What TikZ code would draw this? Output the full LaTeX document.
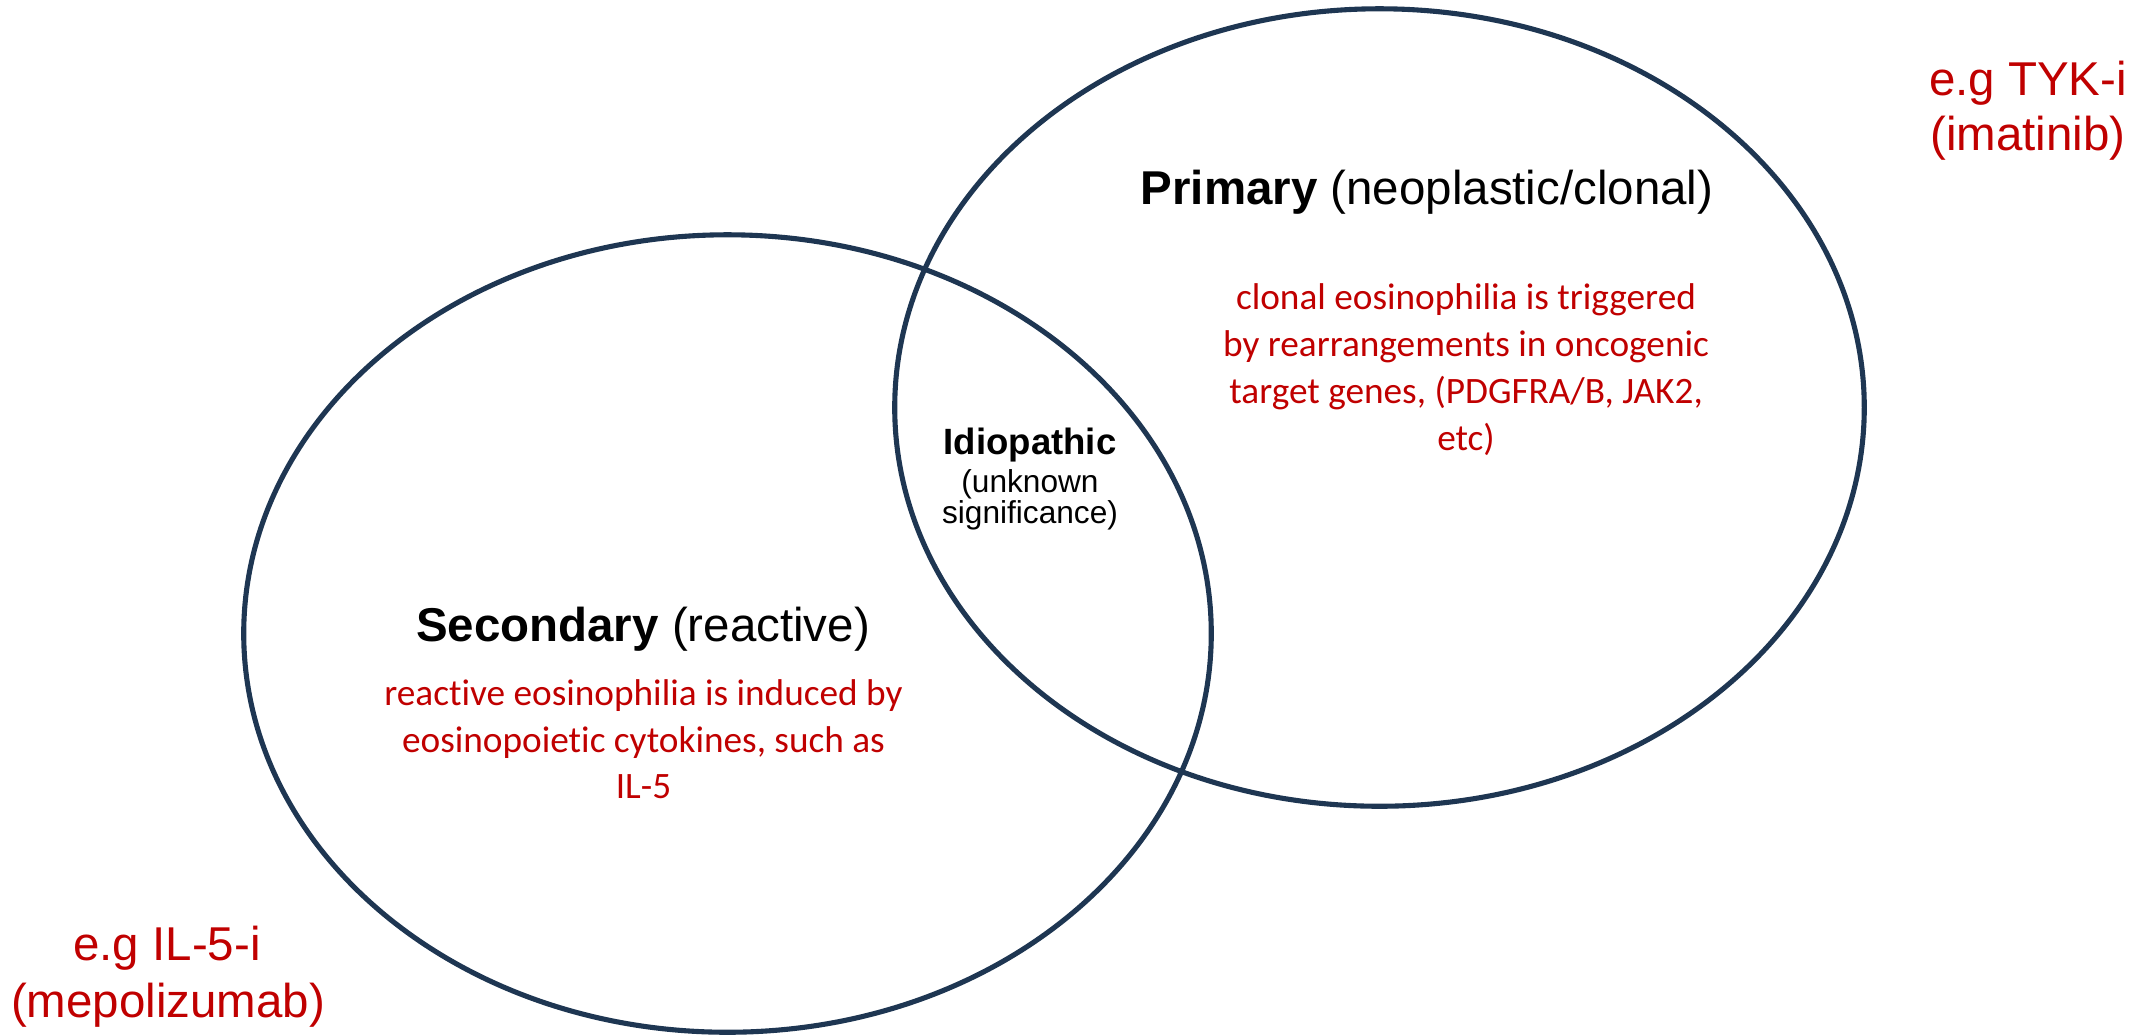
\documentclass[tikz,border=0pt]{standalone}
\usepackage{fontspec}
\setmainfont{Liberation Sans}
\newfontfamily\calib[Ligatures=NoCommon]{Carlito}
\definecolor{ringblue}{HTML}{1E3652}
\definecolor{redtxt}{HTML}{C00000}
\begin{document}
\begin{tikzpicture}[x=0.01cm,y=-0.01cm,
  ringline/.style={draw=ringblue, line width=1.45pt},
  head/.style={anchor=base, inner sep=0pt, font=\fontsize{13.5pt}{16pt}\selectfont},
  redline/.style={anchor=base, inner sep=0pt, text=redtxt, font=\calib\fontsize{10.6pt}{13pt}\selectfont},
  drug/.style={anchor=base, inner sep=0pt, text=redtxt, font=\fontsize{13.5pt}{16pt}\selectfont},
  idio/.style={anchor=base, inner sep=0pt, font=\bfseries\fontsize{10.4pt}{12pt}\selectfont},
  unk/.style={anchor=base, inner sep=0pt, font=\fontsize{9pt}{11pt}\selectfont}]
\useasboundingbox (0,0) rectangle (2154,1035);
% circles
\draw[ringline] (727.5,633.5) ellipse [x radius=4.835cm, y radius=3.985cm];
\draw[ringline] (1379.5,407.5) ellipse [x radius=4.845cm, y radius=3.985cm];
% primary
\node[head] (prim) at (1427,204) {\textbf{Primary} (neoplastic/clonal)};
\node[redline] (p1) at (1466,309.5) {clonal eosinophilia is triggered};
\node[redline] (p2) at (1466,356.5) {by rearrangements in oncogenic};
\node[redline] (p3) at (1466,403) {target genes, (PDGFRA/B, JAK2,};
\node[redline] (p4) at (1466,450) {etc)};
% idiopathic
\node[idio] (id) at (1030,454) {Idiopathic};
\node[unk] (u1) at (1030,492) {(unknown};
\node[unk] (u2) at (1030,523) {significance)};
% secondary
\node[head] (sec) at (643,641) {\textbf{Secondary} (reactive)};
\node[redline] (s1) at (643.5,705) {reactive eosinophilia is induced by};
\node[redline] (s2) at (643.5,752) {eosinopoietic cytokines, such as};
\node[redline] (s3) at (643.5,798) {IL-5};
% drugs
\node[drug] (t1) at (2028,95) {e.g TYK-i};
\node[drug] (t2) at (2028,150) {(imatinib)};
\node[drug] (m1) at (167,960) {e.g IL-5-i};
\node[drug] (m2) at (168,1017) {(mepolizumab)};
\end{tikzpicture}
\end{document}
